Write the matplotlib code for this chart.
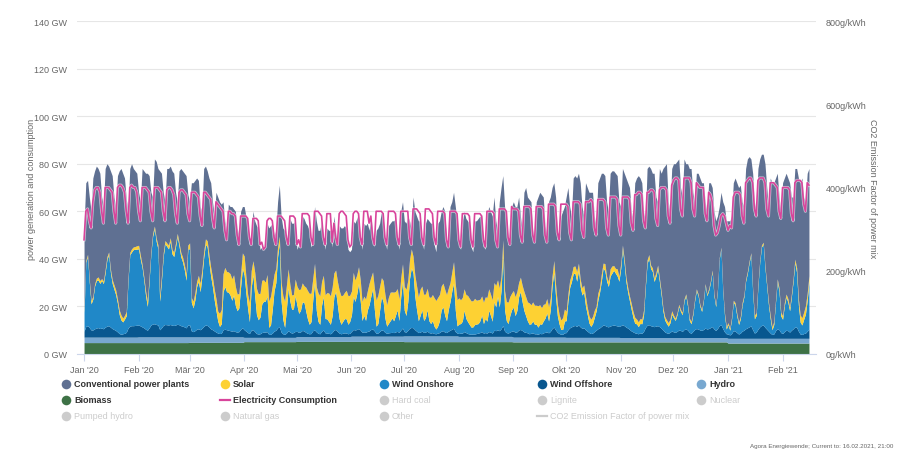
import numpy as np
import pandas as pd
import matplotlib
matplotlib.use("Agg")
import matplotlib.pyplot as plt
import matplotlib.patheffects as pe

plt.rcParams['font.family'] = ['Liberation Sans', 'DejaVu Sans']

# daily values in GW, 01.01.2020 - 16.02.2021 (one row per month)
total_generation = [
    54,72,73,66,60, 74,77,79,78,76,66,62, 78,80,79,77,75,66,62, 75,77,78,76,74,65,61, 78,80,78,77,76,
    68,64, 78,77,76,76,75,68,66, 82,81,78,77,76,68,64, 78,78,79,77,76,68,64, 77,78,77,76,75,67,
    64, 72,72,73,74,73,62,60, 78,79,77,74,72,64,58, 68,66,64,63,64,56,52, 63,62,62,61,60,53,50, 60,62,
    62,58,56,47,50, 60,56,54,53,44,45,44, 45,55,53,54,55,50,52, 64,71,58,53,52,48,52, 57,55,55,56,
    44,46,45, 58,57,55,54,52,45,47, 62,56,52,52,56,50,44, 53,52,52,45,58,52,46, 54,53,53,54,53,44,43,
    44,56,55,57,59,50,44, 55,54,55,52,58,52,45, 52,53,55,60,58,48,44, 54,55,56,56,57,48,44, 60,64,
    56,55,58,56,52, 66,60,58,56,56,48,44, 55,57,56,55,55,46,43, 55,56,60,62,60,48,46, 62,64,68,62,56,
    46,44, 56,60,57,56,55,45,43, 56,56,57,58,58,46,44, 58,62,60,58,66,56,52, 64,70,75,62,58,48,48, 62,
    64,62,62,66,58,52, 68,70,66,65,64,52,48, 64,66,68,67,66,54,50, 64,66,70,72,66,52,48, 58,60,62,
    66,70,62,58, 74,75,74,76,72,62,58, 72,70,68,68,68,58,54, 72,74,76,76,75,64,60, 76,77,77,76,75,64,
    62, 78,76,74,72,70,60,57, 72,74,75,74,72,60,56, 78,79,78,76,76,66,64, 78,76,78,79,80,64,60, 78,
    80,80,81,82,70,66, 82,80,80,78,78,68,64, 76,76,74,72,72,64,60, 72,72,70,60,56,58,62, 68,64,62,56,
    56,56,58, 72,74,72,70,71,64,62, 78,82,83,82,76,64,60, 78,82,84,84,80,70,62, 74,72,72,74,76,66,60,
    72,74,76,74,72,66,66, 78,78,74,72,74,66,64, 76,78,
]

consumption = [
    48,60,61,56,53, 64,69,70,70,68,60,55, 70,70,70,69,68,60,55, 70,71,71,70,68,60,55, 70,71,70,70,68,
    60,56, 70,70,70,69,68,60,56, 70,70,70,69,68,60,56, 69,70,70,69,67,59,55, 68,69,69,68,67,59,
    56, 68,68,68,67,66,58,54, 68,68,67,66,65,57,53, 64,63,62,61,60,52,48, 60,60,59,59,58,50,46, 58,58,
    58,58,57,49,46, 57,57,57,56,46,47,44, 45,56,57,57,56,49,46, 58,58,58,57,56,49,46, 58,58,58,57,
    46,48,45, 59,59,59,59,58,49,46, 60,60,60,59,58,49,46, 59,59,59,47,55,49,46, 59,60,60,59,58,48,45,
    46,59,60,60,59,49,46, 60,60,60,55,58,49,46, 60,60,60,60,59,49,46, 60,60,60,60,59,49,46, 60,60,
    60,60,60,49,46, 61,61,61,60,59,49,46, 61,61,61,60,59,49,46, 60,60,60,60,59,48,45, 60,60,60,60,59,
    48,45, 59,59,59,59,58,48,45, 59,59,59,59,58,48,45, 60,60,60,60,59,48,45, 61,61,61,61,60,49,46, 62,
    61,61,61,60,50,47, 62,62,62,62,61,50,47, 62,62,62,62,61,50,47, 63,63,63,63,62,51,48, 63,63,63,
    63,62,51,48, 64,64,64,64,63,52,49, 64,64,64,65,64,53,50, 65,65,65,65,64,53,50, 66,66,66,66,65,54,
    50, 66,66,66,66,65,55,52, 67,67,68,68,67,56,53, 68,68,69,69,68,57,54, 69,70,70,70,69,58,55, 71,
    73,74,74,73,61,58, 74,74,74,74,72,61,58, 72,71,70,70,70,59,56, 68,67,64,54,50,51,54, 58,59,58,55,
    52,54,53, 66,68,68,68,67,58,55, 72,73,74,74,72,61,58, 73,74,74,74,72,61,58, 72,72,72,71,70,60,57,
    70,70,70,70,69,59,56, 72,73,73,73,72,63,60, 72,71,
]

wind_onshore = [
    8,27,29,19,11,13,18,20,20,19,20,19,23,28,30,23,19,17,15,12,8,6,5,6,7,20,30,31,32,32,32,
    32,28,25,20,14,10,20,30,37,40,35,32,12,20,29,34,33,32,35,30,29,33,37,33,29,27,24,20,32,
    32,12,10,13,18,20,16,22,29,34,33,27,22,18,13,9,5,3,4,16,18,16,16,15,13,15,11,9,10,18,25,
    23,16,10,5,18,23,15,8,6,7,12,13,13,15,3,4,10,17,20,30,35,13,6,3,10,18,13,10,10,15,
    11,8,9,12,12,9,6,4,5,13,20,9,5,4,11,14,6,6,5,4,7,14,16,11,6,4,5,6,6,4,5,
    7,14,12,15,19,12,5,7,5,9,11,14,17,9,3,4,9,14,12,6,3,4,5,6,5,7,9,5,14,20,
    9,7,12,21,25,23,14,9,5,7,9,5,6,9,5,4,5,3,2,3,5,9,10,7,5,9,12,16,19,9,3,
    4,4,5,9,6,5,4,3,3,4,4,4,5,7,4,6,5,9,7,5,12,10,14,10,16,30,9,5,4,7,9,
    10,7,9,14,16,12,9,7,5,4,4,5,4,4,3,4,4,5,6,8,5,9,18,23,14,7,4,2,2,5,
    5,12,17,19,22,22,19,23,17,14,15,10,7,4,3,4,6,8,12,15,19,24,23,19,17,21,22,23,22,21,19,
    24,32,26,19,15,12,9,6,4,4,3,4,4,7,17,26,28,24,23,19,21,24,19,14,8,5,4,3,4,7,
    6,5,7,10,8,7,12,14,10,5,4,7,12,16,14,10,8,12,18,14,16,19,23,14,10,16,28,32,16,7,2,
    4,2,6,12,11,7,4,6,11,14,20,23,27,30,16,6,7,18,27,33,34,25,18,11,6,2,4,12,20,16,7,
    6,11,14,12,9,14,20,27,23,11,5,4,6,8,13,20,
]

wind_offshore = [
    2.5,4.5,4.8,4,3,3,3.5,3.8,4,3.6,3.8,3.5,4.2,4.6,4.8,4.2,3.6,3.2,2.8,2.2,1.5,1.2,1.4,1.6,2,3.8,4.6,4.8,4.8,4.9,5,
    5,4.6,4.2,3.8,3.2,2.8,3.8,5,5.4,5.5,5.2,5,3,3.8,4.8,5.2,5.1,5,5.2,4.9,4.8,5,5.3,5.1,4.7,4.5,4.2,3.8,5,
    5,2.5,2.2,2.6,3.2,3.4,3.0,3.6,4.4,5.0,4.8,4.2,3.4,3.0,2.5,2.0,1.6,1.4,1.5,3.0,3.2,3.0,2.8,2.6,2.4,2.6,2.2,2.0,2.2,3.2,3.8,
    3.2,2.6,2.0,1.6,3.0,3.2,2.4,1.6,1.4,1.5,2.0,2.2,2.2,2.4,1.2,1.3,1.8,2.6,3.0,4.0,4.5,2.2,1.5,1.2,1.8,2.8,2.2,1.8,2.0,2.5,
    2.2,1.8,2.0,2.6,2.4,1.8,1.4,1.2,1.3,2.5,2.8,2.0,1.4,1.2,2.2,2.8,1.6,1.5,1.4,1.2,1.8,2.8,3.0,2.2,1.5,1.2,1.4,1.6,1.5,1.2,1.4,
    2.0,2.8,2.6,2.8,3.2,2.6,1.6,1.8,1.6,2.0,2.2,2.8,3.0,2.2,1.2,1.3,2.0,2.6,2.4,1.6,1.2,1.4,1.5,1.6,1.5,1.8,2.0,1.6,2.6,3.4,
    1.8,1.6,2.4,3.2,3.6,3.4,2.6,2.0,1.4,1.6,2.0,1.5,1.6,2.0,1.4,1.2,1.4,1.0,0.9,1.2,1.4,2.0,2.2,1.6,1.4,2.0,2.4,2.8,3.2,1.8,1.2,
    1.2,1.4,1.4,2.0,1.6,1.2,1.0,0.9,1.0,1.0,1.2,1.4,1.6,2.0,1.4,1.6,1.4,2.0,1.8,1.4,2.6,2.4,2.8,2.4,3.2,4.6,2.2,1.6,1.4,1.8,2.2,
    2.6,2.0,2.2,3.0,3.2,2.8,2.2,2.0,1.8,1.4,1.6,1.8,1.4,1.4,1.2,1.6,1.4,1.8,2.0,2.2,1.8,2.4,3.6,4.2,3.0,2.0,1.5,1.2,1.2,1.8,
    2.0,3.2,4.0,4.4,4.8,5.0,4.6,5.2,4.4,3.8,4.0,3.2,2.6,2.0,1.6,1.8,2.4,3.0,3.6,4.0,4.6,5.2,5.0,4.6,4.4,4.8,5.0,5.2,5.0,4.8,4.6,
    5.0,5.4,5.0,4.4,4.0,3.4,2.8,2.4,2.0,1.8,1.6,2.0,1.8,2.6,4.2,5.2,5.4,5.0,4.8,4.6,4.8,5.0,4.6,4.0,3.2,2.4,2.0,1.8,2.2,2.8,
    2.4,2.2,2.6,3.2,3.0,2.6,3.4,3.6,3.2,2.2,1.8,2.6,3.4,3.8,3.6,3.2,3.0,3.4,4.0,3.6,3.8,4.2,4.6,3.6,3.0,3.8,5.0,5.4,3.8,2.4,1.6,
    1.8,1.4,2.0,3.2,3.0,2.4,1.8,2.2,3.0,3.4,4.0,4.4,4.8,5.2,3.6,2.2,2.6,3.8,4.8,5.4,5.6,4.6,3.8,3.0,2.2,1.6,1.8,3.2,4.0,3.6,2.4,
    2.0,2.8,3.4,3.2,2.6,3.4,4.0,4.8,4.6,3.0,1.8,1.6,2.0,2.2,3.0,3.8,
]

solar = [
    0.9,0.8,1.0,1.2,1.4,1.1,0.9,1.0,1.3,1.2,0.8,1.1,1.3,1.2,1.0,1.4,1.6,1.8,2.0,1.7,1.9,2.1,1.6,1.5,1.8,1.2,1.0,1.3,1.1,1.2,1.4,
    1.5,1.8,1.2,1.4,2.0,2.3,1.6,1.0,1.2,1.1,1.4,1.6,2.4,2.0,1.5,1.3,1.4,1.6,1.5,1.8,1.9,1.4,1.2,1.5,1.8,2.0,2.2,2.6,1.6,
    2.5,2.0,2.8,3.0,2.2,2.5,3.5,2.8,2.4,2.2,2.6,3.2,3.8,4.0,4.5,5.0,4.2,5.5,6.0,7.5,8.0,8.5,8.5,9.0,9.0,8.5,8.0,7.0,6.0,5.5,6.5,
    8,7,6,8,7,6,10,11,11,10,10,9,8,9,11,12,10,7,6,4,3,8,10,11,10,8,7,6,6,7,
    8,10,9,8,7,10,12,13,12,9,8,10,12,12,10,9,10,11,12,12,12,10,9,10,12,12,11,11,12,12,11,
    10,10,9,8,7,9,8,8,9,8,9,8,7,9,11,12,10,8,9,10,9,11,12,11,12,10,9,9,8,7,
    10,11,9,8,8,7,9,10,10,11,10,11,10,9,10,11,11,12,12,12,11,10,10,11,11,9,8,8,9,11,11,
    11,10,10,9,10,11,11,11,11,11,10,10,9,8,9,9,10,9,9,9,8,9,7,8,6,6,8,8,9,8,7,
    7,8,8,6,6,7,8,8,8,9,8,8,8,8,9,8,7,7,6,6,6,5,4,5,5,5,4,4,5,5,
    4,3,3,3,3,3,4,3,3,3,3,4,3,3,3,3,3,2,3,2,3,2,3,2,2,3,3,2,2,3,2,
    2,1.5,2,2,2,2,2.5,2.5,2.5,2,2,2,2,2,1.5,1.5,1.5,1.5,1.5,1.5,1.5,1.5,1.5,1.5,1.5,1.5,1.5,1.5,1.5,1.5,
    1,1,0.8,0.8,0.8,1,0.8,0.8,1,1,1,0.8,0.8,0.7,0.7,0.8,0.8,0.7,0.7,0.7,0.8,0.7,0.8,0.8,0.7,0.6,0.6,0.6,0.8,1,1,
    0.8,0.8,0.8,0.8,1,1,1,1,1,0.8,0.8,0.8,0.8,0.8,1.2,1.5,1.2,1,0.8,0.8,0.8,1,1,1.2,1.4,1.2,1.2,1,1,1.5,1.5,
    1.5,1.2,1.2,1.5,1.5,1.2,1.2,1.5,2,2.5,3,3,3,3.5,3,2.5,
]

# monthly levels Jan 2020 .. Feb 2021
biomass_monthly = [4.8, 4.8, 4.9, 5.2, 5.3, 5.3, 5.2, 5.2, 5.1, 5.1, 5.1, 5.1, 4.6, 4.6]
hydro_monthly = [2.3, 2.4, 2.3, 1.8, 2.0, 2.2, 2.4, 2.2, 2.0, 1.9, 1.8, 1.8, 2.0, 2.0]

month_labels = ["Jan '20", "Feb '20", "Mär '20", "Apr '20", "Mai '20", "Jun '20", "Jul '20",
                "Aug '20", "Sep '20", "Okt '20", "Nov '20", "Dez '20", "Jan '21", "Feb '21"]

days = pd.date_range("2020-01-01", "2021-02-16", freq="D")
n = len(days)
for name, s in [("total", total_generation), ("load", consumption), ("onshore", wind_onshore),
                ("offshore", wind_offshore), ("solar", solar)]:
    assert len(s) == n, (name, len(s), n)

x = np.arange(n)
month_idx = np.asarray((days.year - 2020) * 12 + days.month - 1)
biomass = np.array(biomass_monthly)[month_idx]
hydro = np.array(hydro_monthly)[month_idx]

c_conv = "#5f7092"
c_solar = "#fdd133"
c_on = "#2088c8"
c_off = "#08578f"
c_hydro = "#78a8d0"
c_bio = "#3e7246"
c_load = "#d8449b"
grey_txt = "#666666"

fig = plt.figure(figsize=(9, 4.52), dpi=100)
ax = fig.add_axes([77 / 900, 97 / 452, 739 / 900, 333 / 452])

base = np.zeros(n)
for vals, col in [(biomass, c_bio), (hydro, c_hydro), (np.array(wind_offshore), c_off),
                  (np.array(wind_onshore), c_on), (np.array(solar), c_solar)]:
    ax.fill_between(x, base, base + vals, color=col, lw=0, zorder=2)
    base = base + vals
top = np.maximum(np.array(total_generation, dtype=float), base)
ax.fill_between(x, base, top, color=c_conv, lw=0, zorder=2)

ax.plot(x, consumption, color=c_load, lw=1.2, zorder=3,
        path_effects=[pe.withStroke(linewidth=2.2, foreground=(1, 1, 1, 0.6))])

ax.set_xlim(-4, n + 3)
ax.set_ylim(0, 140)
ax.set_yticks(np.arange(0, 141, 20))
ax.set_yticklabels([f"{v} GW" for v in range(0, 141, 20)])
ax.grid(axis="y", color="#e6e6e6", lw=0.8, zorder=0)
ax.set_axisbelow(True)
for s in ["top", "left", "right"]:
    ax.spines[s].set_visible(False)
ax.spines["bottom"].set_color("#ccd6eb")
ax.spines["bottom"].set_linewidth(0.8)

month_starts = np.where(days.day == 1)[0]
ax.set_xticks(month_starts)
ax.set_xticklabels(month_labels)
ax.tick_params(axis="x", length=5, color="#ccd6eb", labelsize=6.5, labelcolor=grey_txt, pad=3)
ax.tick_params(axis="y", length=0, labelsize=6.5, labelcolor=grey_txt, pad=7)

ax2 = ax.twinx()
ax2.set_ylim(0, 800)
ax2.set_yticks(np.arange(0, 801, 200))
ax2.set_yticklabels([f"{v}g/kWh" for v in range(0, 801, 200)])
ax2.tick_params(axis="y", length=0, labelsize=6.5, labelcolor=grey_txt, pad=7)
for s in ax2.spines.values():
    s.set_visible(False)

fig.text(32 / 900, 1 - 189 / 452, "power generation and consumption", rotation=90,
         ha="center", va="center", fontsize=6.5, color=grey_txt)
fig.text(872 / 900, 1 - 189 / 452, "CO2 Emission Factor of power mix", rotation=270,
         ha="center", va="center", fontsize=6.5, color=grey_txt)

# legend
lg = fig.add_axes([0, 0, 1, 1])
lg.set_xlim(0, 900)
lg.set_ylim(452, 0)
lg.axis("off")
cols = [66, 225, 384, 542, 701]
rows = [385, 401, 417]
items = [
    ("Conventional power plants", c_conv, "dot", True),
    ("Solar", c_solar, "dot", True),
    ("Wind Onshore", c_on, "dot", True),
    ("Wind Offshore", c_off, "dot", True),
    ("Hydro", c_hydro, "dot", True),
    ("Biomass", c_bio, "dot", True),
    ("Electricity Consumption", c_load, "line", True),
    ("Hard coal", None, "dot", False),
    ("Lignite", None, "dot", False),
    ("Nuclear", None, "dot", False),
    ("Pumped hydro", None, "dot", False),
    ("Natural gas", None, "dot", False),
    ("Other", None, "dot", False),
    ("CO2 Emission Factor of power mix", None, "line", False),
]
for i, (label, col, kind, active) in enumerate(items):
    cx = cols[i % 5]
    cy = rows[i // 5]
    mc = col if active else "#cccccc"
    if kind == "dot":
        lg.scatter([cx], [cy], s=48, color=mc, lw=0)
    else:
        lg.plot([cx - 5, cx + 5], [cy, cy], color=mc, lw=1.6)
    lg.text(cx + 8, cy, label, ha="left", va="center", fontsize=6.5,
            fontweight="bold" if active else "normal",
            color="#333333" if active else "#cccccc")

fig.text(893 / 900, 1 - 447 / 452, "Agora Energiewende; Current to: 16.02.2021, 21:00",
         ha="right", va="center", fontsize=4.5, color=grey_txt)

fig.savefig("out.png", dpi=100)
